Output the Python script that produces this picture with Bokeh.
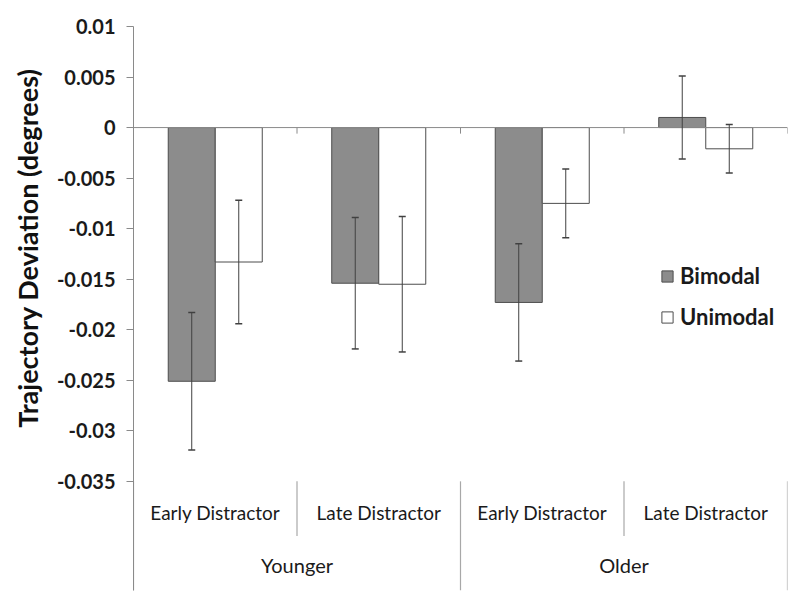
from bokeh.plotting import figure
from bokeh.models import (FactorRange, Range1d, FixedTicker, Whisker, ColumnDataSource,
                          Legend, LegendItem, Span, TeeHead, Title)
from bokeh.core.properties import value
from bokeh.transform import dodge
from bokeh.embed import file_html
from bokeh.resources import INLINE

# ---- data ----
groups = ["Younger", "Younger", "Older", "Older"]
conditions = ["Early Distractor", "Late Distractor", "Early Distractor", "Late Distractor"]
group_names = ["Younger", "Older"]
bimodal = [-0.0251, -0.0154, -0.0173, 0.0010]
bimodal_err = [0.0068, 0.0065, 0.0058, 0.0041]
unimodal = [-0.0133, -0.0155, -0.0075, -0.0021]
unimodal_err = [0.0061, 0.0067, 0.0034, 0.0024]
series_names = ["Bimodal", "Unimodal"]
y_ticks = [-0.035, -0.03, -0.025, -0.02, -0.015, -0.01, -0.005, 0, 0.005, 0.01]
y_tick_labels = ["-0.035", "-0.03", "-0.025", "-0.02", "-0.015", "-0.01", "-0.005", "0", "0.005", "0.01"]
y_title = "Trajectory Deviation (degrees)"

# ---- layout constants (axis units below the value axis, used for the category header) ----
FONT = "Lato"
BAR_W = 0.2875
Y_MIN, Y_MAX = -0.0458, 0.01
LABEL_Y = -0.0381
GROUP_Y = -0.0433
SEP_TOP = -0.0350
SEP_SHORT = -0.0404
SEP_LONG = -0.0458
TICK_LEN = 0.0006
AXIS_GRAY = "#8a8a8a"

factors = list(zip(groups, conditions))
src = ColumnDataSource(dict(
    x=factors,
    bi=bimodal,
    uni=unimodal,
    bi_up=[v + e for v, e in zip(bimodal, bimodal_err)],
    bi_lo=[v - e for v, e in zip(bimodal, bimodal_err)],
    uni_up=[v + e for v, e in zip(unimodal, unimodal_err)],
    uni_lo=[v - e for v, e in zip(unimodal, unimodal_err)],
    lab=conditions,
))

p = figure(
    x_range=FactorRange(*factors, factor_padding=0, group_padding=0, range_padding=0),
    y_range=Range1d(Y_MIN, Y_MAX),
    width=792, height=594,
    output_backend="svg", toolbar_location=None,
    min_border_left=133, min_border_right=5, min_border_top=26, min_border_bottom=4,
)
p.outline_line_color = None
p.xgrid.visible = False
p.ygrid.visible = False
p.xaxis.visible = False
p.background_fill_color = "white"
p.border_fill_color = "white"

# zero line
p.add_layout(Span(location=0, dimension="width", line_color=AXIS_GRAY, line_width=1))

# category separators / boundary ticks
long_flags = [i == 0 or groups[i] != groups[i - 1] for i in range(len(groups))]
sep_src = ColumnDataSource(dict(
    x=factors,
    y0=[SEP_TOP] * len(factors),
    y1=[SEP_LONG if f else SEP_SHORT for f in long_flags],
    t0=[0] * len(factors),
    t1=[-TICK_LEN] * len(factors),
))
end_src = ColumnDataSource(dict(x=[factors[-1]], y0=[SEP_TOP], y1=[SEP_LONG],
                                t0=[0], t1=[-TICK_LEN]))
for s, off in [(sep_src, -0.5), (end_src, 0.5)]:
    xs = dodge("x", off, range=p.x_range)
    p.segment(x0=xs, x1=xs, y0="y0", y1="y1", source=s, line_color="#a8a8a8", line_width=1.2)
    p.segment(x0=xs, x1=xs, y0="t0", y1="t1", source=s, line_color=AXIS_GRAY, line_width=1)

r_bi = p.vbar(x=dodge("x", -BAR_W / 2, range=p.x_range), top="bi", bottom=0, width=BAR_W,
              source=src, fill_color="#8c8c8c", line_color="#4d4d4d", line_width=1)
r_uni = p.vbar(x=dodge("x", BAR_W / 2, range=p.x_range), top="uni", bottom=0, width=BAR_W,
               source=src, fill_color="white", line_color="#4d4d4d", line_width=1)

for off, up, lo in [(-BAR_W / 2, "bi_up", "bi_lo"), (BAR_W / 2, "uni_up", "uni_lo")]:
    w = Whisker(source=src, base=dodge("x", off, range=p.x_range), upper=up, lower=lo,
                line_color="#404040", line_width=1,
                upper_head=TeeHead(size=7, line_color="#404040", line_width=1.5),
                lower_head=TeeHead(size=7, line_color="#404040", line_width=1.5))
    w.level = "annotation"
    p.add_layout(w)

# category and group labels
p.text(x="x", y=LABEL_Y, text="lab", source=src, text_align="center", text_baseline="middle",
       text_font=value(FONT), text_font_size=value("19px"), text_color="#1a1a1a")
grp_src = ColumnDataSource(dict(x=group_names, lab=group_names))
p.text(x="x", y=GROUP_Y, text="lab", source=grp_src, text_align="center", text_baseline="middle",
       text_font=value(FONT), text_font_size=value("20px"), text_color="#1a1a1a")

# y axis
yax = p.yaxis[0]
yax.ticker = FixedTicker(ticks=y_ticks)
yax.major_label_overrides = dict(zip(y_ticks, y_tick_labels))
yax.minor_tick_line_color = None
yax.major_tick_in = 0
yax.major_tick_out = 7
yax.axis_line_color = AXIS_GRAY
yax.major_tick_line_color = AXIS_GRAY
yax.major_label_standoff = 11
yax.major_label_text_font = FONT
yax.major_label_text_font_size = "20px"
yax.major_label_text_font_style = "bold"
yax.major_label_text_color = "#1a1a1a"

# y axis title, aligned with the value part of the axis
p.add_layout(Title(text=y_title, align="right", vertical_align="middle", offset=42, standoff=18,
                   text_font=FONT, text_font_size="27px", text_font_style="bold",
                   text_color="#111111"), "left")

legend = Legend(
    items=[LegendItem(label=series_names[0], renderers=[r_bi]),
           LegendItem(label=series_names[1], renderers=[r_uni])],
    location=(527, 260),
    glyph_width=14, glyph_height=14,
    label_text_font=FONT, label_text_font_size="22px", label_text_font_style="bold",
    label_text_color="#1a1a1a", label_standoff=6,
    spacing=14, padding=0, margin=0,
    border_line_color=None, background_fill_alpha=0,
)
p.add_layout(legend, "center")

open("out.html", "w").write(file_html(p, INLINE))
